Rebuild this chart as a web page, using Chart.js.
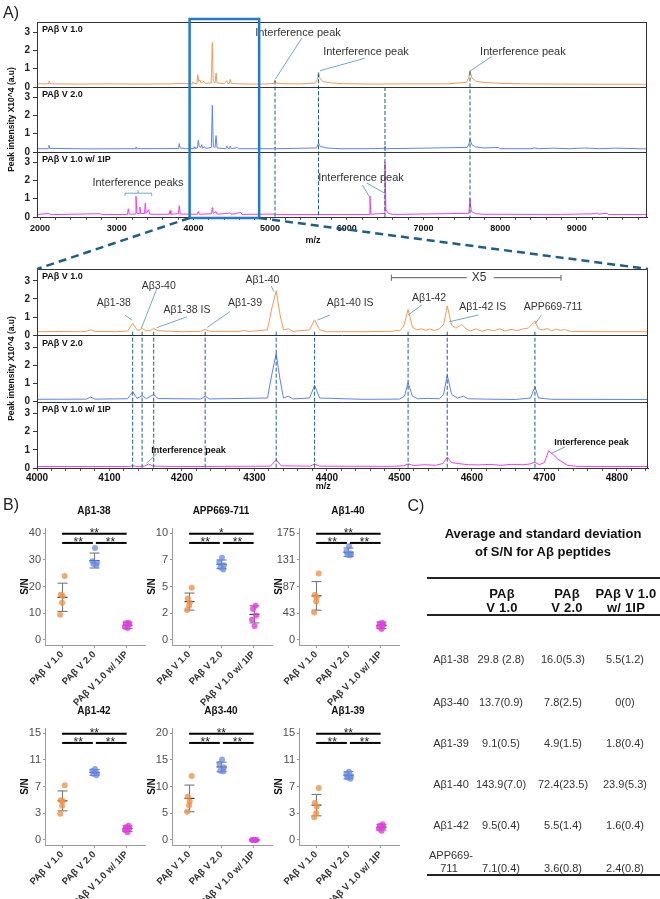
<!DOCTYPE html>
<html>
<head>
<meta charset="utf-8">
<title>PAβ spectra and S/N</title>
<script src="https://cdn.jsdelivr.net/npm/chart.js@4.4.1/dist/chart.umd.min.js"></script>
<style>
  html, body { margin: 0; padding: 0; background: #fff; }
  body { position: relative; width: 660px; height: 899px; overflow: hidden;
         font-family: "Liberation Sans", Arial, sans-serif; color: #222; }
  canvas { position: absolute; }
  .t { position: absolute; white-space: nowrap; transform: translate(-50%, -50%); line-height: 1; }
</style>
</head>
<body>
<script>
const FONT = '"Liberation Sans", Arial, sans-serif';
Chart.defaults.animation = false;
Chart.defaults.font.family = FONT;
Chart.defaults.color = '#222';

// ---------- A) spectra: [m/z, intensity x10^4] ----------
const traceNames = ['PAβ V 1.0', 'PAβ V 2.0', 'PAβ V 1.0 w/ 1IP'];
const traceColors = ['#f39a55', '#5f82ef', '#ee3ff0'];
const specYTicks = [0, 1, 2, 3];

const ovMajor = [2000, 3000, 4000, 5000, 6000, 7000, 8000, 9000];
const ovV1 = [[1960,0.17],[2080,0.17],[2105,0.19],[2116,0.33],[2130,0.2],[2160,0.17],[2500,0.16],[2900,0.17],
  [3300,0.16],[3700,0.17],[3800,0.19],[3950,0.18],[3985,0.17],[3995,0.28],[4008,0.18],[4045,0.2],[4056,0.67],
  [4070,0.3],[4086,0.38],[4100,0.22],[4140,0.3],[4154,0.2],[4232,0.22],[4246,2.43],[4259,0.3],[4282,0.22],
  [4295,0.76],[4308,0.22],[4400,0.18],[4436,0.35],[4449,0.2],[4468,0.18],[4480,0.42],[4492,0.2],[4600,0.17],
  [4800,0.16],[5000,0.17],[5050,0.2],[5064,0.37],[5080,0.22],[5150,0.18],[5400,0.17],[5590,0.22],[5618,0.45],
  [5631,0.8],[5652,0.45],[5690,0.3],[5800,0.22],[5950,0.18],[6300,0.16],[6800,0.17],[7300,0.17],[7560,0.25],
  [7590,0.5],[7607,0.89],[7630,0.5],[7680,0.32],[7780,0.25],[8000,0.2],[8300,0.17],[8800,0.16],[9300,0.15],[9915,0.15]];
const ovV2 = [[1960,0.18],[2100,0.18],[2108,0.2],[2116,0.37],[2126,0.2],[2600,0.17],[3240,0.18],[3251,0.28],
  [3262,0.18],[3800,0.19],[3808,0.25],[3815,0.46],[3826,0.22],[3900,0.18],[4000,0.18],[4010,0.28],[4020,0.2],
  [4052,0.22],[4063,0.64],[4077,0.3],[4097,0.25],[4108,0.4],[4120,0.2],[4145,0.3],[4158,0.2],[4234,0.25],
  [4246,2.55],[4259,0.3],[4282,0.25],[4295,0.9],[4308,0.22],[4424,0.18],[4436,0.32],[4449,0.2],[4470,0.18],
  [4480,0.32],[4492,0.18],[4575,0.24],[4588,0.18],[5050,0.18],[5064,0.24],[5080,0.18],[5605,0.22],[5631,0.5],
  [5655,0.3],[5740,0.22],[5900,0.18],[6290,0.18],[6302,0.22],[6316,0.18],[6486,0.2],[6498,0.32],[6512,0.18],
  [7570,0.25],[7594,0.45],[7607,0.7],[7630,0.4],[7680,0.28],[7780,0.22],[7980,0.25],[7995,0.18],[8400,0.18],
  [8450,0.22],[8500,0.18],[8700,0.21],[8900,0.18],[9100,0.22],[9300,0.18],[9500,0.21],[9915,0.17]];
const ovIP = [[1960,0.13],[2116,0.2],[2140,0.13],[2785,0.18],[2800,0.13],[3140,0.14],[3151,0.45],[3163,0.15],
  [3240,0.16],[3251,1.13],[3264,0.2],[3294,0.18],[3302,0.55],[3312,0.2],[3362,0.18],[3372,0.76],[3384,0.2],
  [3416,0.4],[3430,0.15],[3684,0.15],[3695,0.35],[3706,0.15],[3804,0.18],[3815,0.62],[3828,0.16],[4052,0.15],
  [4063,0.3],[4077,0.15],[4236,0.18],[4246,0.52],[4259,0.2],[4295,0.3],[4308,0.15],[4480,0.22],[4494,0.14],
  [4620,0.25],[4633,0.14],[5064,0.16],[5080,0.13],[6290,0.14],[6302,1.13],[6314,0.15],[6488,0.2],[6498,3.0],
  [6510,0.4],[6540,0.2],[6600,0.14],[7592,0.2],[7607,1.0],[7624,0.3],[7680,0.18],[7760,0.15],[8800,0.14],
  [9250,0.18],[9264,0.22],[9280,0.16],[9395,0.2],[9410,0.14],[9915,0.13]];

const zmMajor = [4000, 4100, 4200, 4300, 4400, 4500, 4600, 4700, 4800];
const zmV1 = [[4000,0.2],[4030,0.21],[4060,0.2],[4068,0.22],[4074,0.3],[4080,0.22],[4110,0.2],[4125,0.24],
  [4132,0.66],[4138,0.3],[4141,0.28],[4145,0.38],[4150,0.25],[4156,0.26],[4161,0.38],[4167,0.25],[4200,0.2],
  [4226,0.22],[4232,0.33],[4238,0.22],[4280,0.22],[4286,0.27],[4292,0.21],[4318,0.3],[4324,1.5],[4330,2.45],
  [4335,1.2],[4340,0.3],[4347,0.36],[4353,0.22],[4376,0.3],[4383,0.85],[4390,0.3],[4400,0.2],[4450,0.2],
  [4490,0.22],[4496,0.28],[4500,0.24],[4506,0.5],[4512,1.43],[4518,0.45],[4524,0.3],[4530,0.36],[4536,0.28],
  [4542,0.34],[4548,0.27],[4555,0.35],[4561,0.6],[4566,1.62],[4572,0.55],[4578,0.4],[4586,0.6],[4592,0.35],
  [4598,0.25],[4606,0.35],[4614,0.22],[4622,0.33],[4630,0.25],[4638,0.36],[4646,0.24],[4654,0.33],[4662,0.26],
  [4670,0.35],[4678,0.4],[4687,0.8],[4692,0.35],[4698,0.3],[4704,0.37],[4710,0.25],[4716,0.34],[4722,0.27],
  [4728,0.32],[4735,0.22],[4780,0.2],[4843,0.2]];
const zmV2 = [[4000,0.13],[4068,0.14],[4074,0.25],[4080,0.14],[4125,0.16],[4132,0.55],[4138,0.18],[4145,0.33],
  [4151,0.17],[4161,0.4],[4167,0.17],[4226,0.15],[4232,0.3],[4238,0.15],[4318,0.2],[4324,1.5],[4330,2.65],
  [4335,1.3],[4340,0.2],[4347,0.3],[4353,0.15],[4376,0.2],[4383,0.9],[4390,0.2],[4450,0.13],[4500,0.14],
  [4507,0.3],[4512,1.04],[4518,0.3],[4525,0.16],[4540,0.18],[4555,0.16],[4561,0.4],[4566,1.46],[4572,0.4],
  [4580,0.2],[4588,0.3],[4595,0.16],[4620,0.14],[4660,0.12],[4681,0.2],[4687,0.82],[4692,0.2],[4700,0.17],
  [4710,0.13],[4843,0.12]];
const zmIP = [[4000,0.08],[4126,0.08],[4132,0.12],[4140,0.08],[4148,0.1],[4154,0.22],[4160,0.1],[4200,0.08],
  [4322,0.1],[4330,0.45],[4337,0.12],[4377,0.1],[4383,0.22],[4390,0.1],[4490,0.09],[4506,0.12],[4512,0.22],
  [4520,0.14],[4535,0.18],[4550,0.15],[4560,0.25],[4566,0.6],[4572,0.3],[4580,0.25],[4595,0.18],[4610,0.17],
  [4625,0.2],[4640,0.15],[4655,0.2],[4670,0.18],[4680,0.22],[4687,0.32],[4693,0.18],[4700,0.3],[4706,0.95],
  [4712,0.75],[4718,0.5],[4724,0.35],[4732,0.15],[4745,0.09],[4843,0.08]];

// dashed peak markers: [m/z, axis where it starts, value where it starts]
const ovMarkers = [[5064,'yA',0.35],[5631,'yA',0.75],[6498,'yB',3.55],[7607,'yA',0.85]];
const zmMarkers = [4132, 4145, 4161, 4232, 4330, 4383, 4512, 4566, 4687].map(m => [m, 'yA', 0.2]);
const boxMz = [3950, 4857];

// annotation texts (placed in data units)
const ovLabels = [
  {t:'Interference peak', x:5363, ax:'yA', y:2.95},
  {t:'Interference peak', x:6250, ax:'yA', y:1.91},
  {t:'Interference peak', x:8297, ax:'yA', y:1.91},
  {t:'Interference peaks', x:3277, ax:'yC', y:1.86},
  {t:'Interference peak', x:6185, ax:'yC', y:2.13}];
const ovLines = [
  {ax:'yA', p:[[5412,2.66],[5067,0.42]]}, {ax:'yA', p:[[6237,1.57],[5650,0.89]]},
  {ax:'yA', p:[[7889,1.66],[7606,0.87]]}, {ax:'yC', p:[[6202,1.75],[6302,1.07]]},
  {ax:'yC', p:[[6259,1.86],[6489,1.31]]},
  {ax:'yC', p:[[3108,1.15],[3108,1.30],[3456,1.30],[3456,1.15]]}, {ax:'yC', p:[[3277,1.30],[3277,1.48]]}];
const zmLabels = [
  {t:'Aβ1-38', x:4106, ax:'yA', y:1.80}, {t:'Aβ3-40', x:4168, ax:'yA', y:2.71},
  {t:'Aβ1-38 IS', x:4207, ax:'yA', y:1.39}, {t:'Aβ1-39', x:4287, ax:'yA', y:1.80},
  {t:'Aβ1-40', x:4311, ax:'yA', y:3.05}, {t:'Aβ1-40 IS', x:4432, ax:'yA', y:1.80},
  {t:'Aβ1-42', x:4541, ax:'yA', y:2.07}, {t:'Aβ1-42 IS', x:4615, ax:'yA', y:1.57},
  {t:'APP669-711', x:4712, ax:'yA', y:1.57}, {t:'X5', x:4610, ax:'yA', y:3.17, size:12},
  {t:'Interference peak', x:4209, ax:'yC', y:0.94, size:9, bold:true},
  {t:'Interference peak', x:4765, ax:'yC', y:1.38, size:9, bold:true}];
const zmLines = [
  {ax:'yA', p:[[4121,1.12],[4131,0.84]]}, {ax:'yA', p:[[4165,2.53],[4144,0.39]]},
  {ax:'yA', p:[[4207,1.02],[4165,0.42]]}, {ax:'yA', p:[[4266,1.30],[4235,0.44]]},
  {ax:'yA', p:[[4323,2.71],[4327,2.40]]}, {ax:'yA', p:[[4404,1.12],[4387,0.84]]},
  {ax:'yA', p:[[4531,1.67],[4512,1.12]]}, {ax:'yA', p:[[4609,1.12],[4569,0.75]]},
  {ax:'yA', p:[[4696,1.12],[4687,0.62]]},
  {ax:'yC', p:[[4165,0.77],[4151,0.26]]}, {ax:'yC', p:[[4729,1.17],[4710,0.81]]},
  {ax:'yA', p:[[4489,3.17],[4593,3.17]], c:'#7a7a7a'}, {ax:'yA', p:[[4630,3.17],[4723,3.17]], c:'#7a7a7a'},
  {ax:'yA', p:[[4489,3.0],[4489,3.34]], c:'#7a7a7a'}, {ax:'yA', p:[[4723,3.0],[4723,3.34]], c:'#7a7a7a'}];

// ---------- B) S/N per peptide ----------
const groups = ['PAβ V 1.0', 'PAβ V 2.0', 'PAβ V 1.0 w/ 1IP'];
const peptides = ['Aβ1-38', 'APP669-711', 'Aβ1-40', 'Aβ1-42', 'Aβ3-40', 'Aβ1-39'];
const yMax = [40, 10, 175, 15, 20, 15];
const yTickLabels = [['0','10','20','30','40'], ['0','2','5','7','10'], ['0','43','87','131','175'],
                     ['0','3','7','11','15'], ['0','5','10','15','20'], ['0','3','7','11','15']];
const snMeans = [[16.0,29.8,5.5],[3.6,7.1,2.4],[72.4,143.9,23.9],[5.5,9.5,1.6],[7.8,13.7,0],[4.9,9.1,1.8]];
const snSds = [[5.3,2.8,1.2],[0.8,0.4,0.8],[23.5,7.0,5.3],[1.4,0.4,0.4],[2.5,0.9,0],[1.5,0.5,0.4]];
const snPoints = [
  [[24.0,17.0,16.5,14.0,9.5],[34.5,29.5,29.0,28.5,28.0],[6.5,6.3,5.8,5.0,4.5]],
  [[4.9,3.9,3.5,3.2,2.8],[7.7,7.3,7.0,6.8,6.6],[3.2,2.9,2.3,1.9,1.3]],
  [[109,74,70,63,45],[154,145,142,140,139],[28,27,24,22,18]],
  [[7.7,5.6,5.5,4.8,3.7],[10.0,9.7,9.4,9.3,9.1],[2.0,1.8,1.6,1.4,1.1]],
  [[12.0,8.1,7.2,6.5,5.3],[15.1,14.3,13.6,13.0,12.9],[0,0,0,0,0]],
  [[7.3,5.2,4.7,3.8,3.2],[9.6,9.2,9.0,8.8,8.6],[2.2,2.0,1.8,1.6,1.3]]];
const jitter = [[0.08,-0.04,0.02,0.0,-0.06],[0.02,-0.06,0.08,-0.03,0.06],[0.06,-0.02,0.08,-0.05,0.03]];
// stars: [V1.0 vs IP (top), V1.0 vs V2.0, V2.0 vs IP]
const sigStars = [['**','**','**'],['*','**','**'],['**','**','**'],['**','**','**'],['**','**','**'],['**','**','**']];
const dotColors = ['rgba(243,146,70,0.8)', 'rgba(100,138,232,0.75)', 'rgba(222,62,222,0.8)'];

// ---------- C) table ----------
const tableTitle = ['Average and standard deviation', 'of S/N for Aβ peptides'];
const tableHead = [['PAβ', 'V 1.0'], ['PAβ', 'V 2.0'], ['PAβ V 1.0', 'w/ 1IP']];
const tableRows = ['Aβ1-38', 'Aβ3-40', 'Aβ1-39', 'Aβ1-40', 'Aβ1-42', 'APP669-711'];
const tableV1 = ['29.8 (2.8)', '13.7(0.9)', '9.1(0.5)', '143.9(7.0)', '9.5(0.4)', '7.1(0.4)'];
const tableV2 = ['16.0(5.3)', '7.8(2.5)', '4.9(1.5)', '72.4(23.5)', '5.5(1.4)', '3.6(0.8)'];
const tableIP = ['5.5(1.2)', '0(0)', '1.8(0.4)', '23.9(5.3)', '1.6(0.4)', '2.4(0.8)'];

// ---------- helpers ----------
function addCanvas(left, top, w, h) {
  const c = document.createElement('canvas');
  c.width = w; c.height = h;
  c.style.left = left + 'px'; c.style.top = top + 'px';
  c.style.width = w + 'px'; c.style.height = h + 'px';
  document.body.appendChild(c);
  return c;
}
function addText(x, y, str, css) {
  const d = document.createElement('div');
  d.className = 't';
  d.textContent = str;
  d.style.left = x + 'px'; d.style.top = y + 'px';
  Object.assign(d.style, css || {});
  document.body.appendChild(d);
  return d;
}
function seg(ctx, pts) {
  ctx.beginPath();
  pts.forEach((p, k) => k ? ctx.lineTo(p[0], p[1]) : ctx.moveTo(p[0], p[1]));
  ctx.stroke();
}

// ---------- spectrum chart (three stacked y axes) ----------
function spectrum(canvas, traces, cfg) {
  const axes = ['yA', 'yB', 'yC'];
  const tickVals = [];
  for (let v = Math.ceil(cfg.min / cfg.step) * cfg.step; v <= cfg.max; v += cfg.step) tickVals.push(v);

  const yAxis = () => ({
    type: 'linear', position: 'left', stack: 'spec', stackWeight: 1,
    min: 0, max: cfg.yMax,
    afterBuildTicks: s => { s.ticks = specYTicks.map(v => ({ value: v })); },
    ticks: { autoSkip: false, font: { size: 10, weight: 'bold' }, color: '#222', padding: 3 },
    grid: { drawOnChartArea: false, tickLength: 4, color: '#333' },
    border: { color: '#333' },
    afterFit: s => { s.width = 37; }
  });

  const decor = {
    id: 'decor',
    afterDatasetsDraw(chart) {
      const ctx = chart.ctx, x = chart.scales.x, a = chart.chartArea;
      ctx.save();
      ctx.strokeStyle = '#1d5f80'; ctx.lineWidth = 1; ctx.setLineDash([4, 2]);
      cfg.markers.forEach(m => {
        const px = x.getPixelForValue(m[0]);
        seg(ctx, [[px, chart.scales[m[1]].getPixelForValue(m[2])], [px, a.bottom]]);
      });
      ctx.restore();
    },
    afterDraw(chart) {
      const ctx = chart.ctx, x = chart.scales.x, a = chart.chartArea;
      ctx.save();
      ctx.strokeStyle = '#333'; ctx.lineWidth = 1;
      ctx.strokeRect(a.left + 0.5, a.top + 0.5, a.right - a.left - 1, a.bottom - a.top);
      ['yA', 'yB'].forEach(id => {
        const b = Math.round(chart.scales[id].bottom) + 0.5;
        seg(ctx, [[a.left, b], [a.right, b]]);
      });
      // trace names
      ctx.fillStyle = '#111'; ctx.textBaseline = 'middle'; ctx.textAlign = 'left';
      ctx.font = 'bold 9px ' + FONT;
      axes.forEach((id, i) => ctx.fillText(traceNames[i], a.left + 5, chart.scales[id].top + 8));
      // leaders / brackets
      cfg.lines.forEach(l => {
        ctx.strokeStyle = l.c || '#4a92bd'; ctx.lineWidth = l.c ? 1.2 : 0.8;
        seg(ctx, l.p.map(p => [x.getPixelForValue(p[0]), chart.scales[l.ax].getPixelForValue(p[1])]));
      });
      // labels
      ctx.textAlign = 'center';
      cfg.labels.forEach(l => {
        ctx.font = (l.bold ? 'bold ' : '') + (l.size || cfg.labelSize) + 'px ' + FONT;
        ctx.fillStyle = l.bold ? '#111' : '#333';
        ctx.fillText(l.t, x.getPixelForValue(l.x), chart.scales[l.ax].getPixelForValue(l.y));
      });
      // axis titles
      ctx.fillStyle = '#111';
      ctx.font = 'bold 9px ' + FONT;
      ctx.fillText('m/z', x.getPixelForValue(cfg.mzTitleAt), a.bottom + cfg.mzTitleDy);
      ctx.translate(12, (a.top + a.bottom) / 2);
      ctx.rotate(-Math.PI / 2);
      ctx.font = 'bold 8.5px ' + FONT;
      ctx.fillText('Peak intensity X10^4 (a.u)', 0, 0);
      ctx.restore();
    }
  };

  return new Chart(canvas, {
    type: 'line',
    data: {
      datasets: traces.map((t, i) => ({
        data: t.map(p => ({ x: p[0], y: p[1] })),
        yAxisID: axes[i], borderColor: traceColors[i], borderWidth: 1,
        pointRadius: 0, tension: 0, fill: false
      }))
    },
    options: {
      responsive: false,
      layout: { padding: { top: cfg.top, right: cfg.right, left: 0, bottom: 0 } },
      plugins: { legend: { display: false }, tooltip: { enabled: false } },
      scales: {
        x: {
          type: 'linear', min: cfg.min, max: cfg.max,
          afterBuildTicks: s => { s.ticks = tickVals.map(v => ({ value: v })); },
          ticks: {
            autoSkip: false, maxRotation: 0, padding: cfg.tickPad, color: '#111',
            font: { size: cfg.tickSize, weight: 'bold' },
            callback: v => cfg.major.includes(v) ? String(v) : ''
          },
          grid: { drawOnChartArea: false, tickLength: 3, color: '#555' },
          border: { color: '#333' },
          afterFit: s => { s.height = cfg.xh; }
        },
        yC: yAxis(), yB: yAxis(), yA: yAxis()
      }
    },
    plugins: [decor]
  });
}

const ovChart = spectrum(addCanvas(0, 0, 660, 250), [ovV1, ovV2, ovIP], {
  min: 1960, max: 9915, step: 200, major: ovMajor, yMax: 3.55, top: 22, right: 13, xh: 33,
  tickSize: 9, tickPad: 3, markers: ovMarkers, labels: ovLabels, lines: ovLines, labelSize: 11,
  mzTitleAt: 5559, mzTitleDy: 24
});
const zmTop = 250;
const zmChart = spectrum(addCanvas(0, zmTop, 660, 250), [zmV1, zmV2, zmIP], {
  min: 4000, max: 4843, step: 20, major: zmMajor, yMax: 3.65, top: 19, right: 12, xh: 32,
  tickSize: 10, tickPad: 1, markers: zmMarkers, labels: zmLabels, lines: zmLines, labelSize: 10.5,
  mzTitleAt: 4395, mzTitleDy: 19
});

// ---------- B) small S/N charts ----------
const smallPos = [[45, 528], [172, 528], [299, 528], [45, 728], [172, 728], [299, 728]];

function snChart(i) {
  const [axX, top] = smallPos[i];
  const h = top < 600 ? 215 : 204;
  const max = yMax[i];
  const decor = {
    id: 'sn',
    beforeDatasetsDraw(chart) {
      const ctx = chart.ctx, xs = chart.scales.x, ys = chart.scales.y;
      ctx.save();
      ctx.lineWidth = 1.1;
      snMeans[i].forEach((m, g) => {
        const px = Math.round(xs.getPixelForValue(g + 1)) + 0.5;
        const lo = ys.getPixelForValue(m - snSds[i][g]), hi = ys.getPixelForValue(m + snSds[i][g]);
        const md = ys.getPixelForValue(m);
        ctx.strokeStyle = '#777';
        seg(ctx, [[px, lo], [px, hi]]);
        seg(ctx, [[px - 5, lo], [px + 5, lo]]);
        seg(ctx, [[px - 5, hi], [px + 5, hi]]);
        ctx.strokeStyle = '#2a2a2a';
        seg(ctx, [[px - 5, md], [px + 5, md]]);
      });
      ctx.restore();
    },
    afterDraw(chart) {
      const ctx = chart.ctx, xs = chart.scales.x, ys = chart.scales.y, a = chart.chartArea;
      const c = [1, 2, 3].map(v => xs.getPixelForValue(v));
      const yTop = ys.getPixelForValue(0.995 * max), yLow = ys.getPixelForValue(0.91 * max);
      ctx.save();
      ctx.strokeStyle = '#000'; ctx.lineWidth = 2;
      seg(ctx, [[c[0], yTop], [c[2], yTop]]);
      seg(ctx, [[c[0], yLow], [c[1] - 1.5, yLow]]);
      seg(ctx, [[c[1] + 1.5, yLow], [c[2], yLow]]);
      ctx.fillStyle = '#222'; ctx.textAlign = 'center'; ctx.textBaseline = 'alphabetic';
      ctx.font = '12px ' + FONT;
      ctx.fillText(sigStars[i][0], (c[0] + c[2]) / 2, yTop + 3);
      ctx.fillText(sigStars[i][1], (c[0] + c[1]) / 2, yLow + 3);
      ctx.fillText(sigStars[i][2], (c[1] + c[2]) / 2, yLow + 3);
      // title and y title
      ctx.fillStyle = '#111'; ctx.textBaseline = 'middle';
      ctx.font = 'bold 10px ' + FONT;
      ctx.fillText(peptides[i], (a.left + a.right) / 2 - 1, a.top - 17);
      ctx.translate(a.left - 20, (a.top + a.bottom) / 2);
      ctx.rotate(-Math.PI / 2);
      ctx.fillText('S/N', 0, 0);
      ctx.restore();
    }
  };
  return new Chart(addCanvas(axX - 45, top - 33, 150, h), {
    type: 'scatter',
    data: {
      datasets: snPoints[i].map((vals, g) => ({
        data: vals.map((v, k) => ({ x: g + 1 + jitter[g][k], y: v })),
        backgroundColor: dotColors[g], borderWidth: 0, pointRadius: 3
      }))
    },
    options: {
      responsive: false,
      layout: { padding: { top: 33, right: 5, left: 0, bottom: 0 } },
      plugins: { legend: { display: false }, tooltip: { enabled: false } },
      scales: {
        x: {
          type: 'linear', min: 0.47, max: 3.57,
          afterBuildTicks: s => { s.ticks = groups.map((_, g) => ({ value: g + 1 })); },
          ticks: {
            autoSkip: false, minRotation: 45, maxRotation: 45, padding: 1, color: '#333',
            font: { size: 9.5, weight: 'bold' }, callback: v => groups[Math.round(v) - 1]
          },
          grid: { drawOnChartArea: false, tickLength: 3, color: '#9a9a9a' },
          border: { color: '#9a9a9a' },
          afterFit: s => { s.height = h - 150; }
        },
        y: {
          type: 'linear', min: -0.047 * max, max: 1.05 * max,
          afterBuildTicks: s => { s.ticks = yTickLabels[i].map((_, k) => ({ value: max * k / 4 })); },
          ticks: { autoSkip: false, padding: 2, color: '#4d4d4d', font: { size: 11 }, callback: (v, k) => yTickLabels[i][k] },
          grid: { drawOnChartArea: false, tickLength: 2, color: '#9a9a9a' },
          border: { color: '#9a9a9a' },
          afterFit: s => { s.width = 45; }
        }
      }
    },
    plugins: [decor]
  });
}
peptides.forEach((_, i) => snChart(i));

// ---------- zoom box and connectors (overlay) ----------
const overlay = addCanvas(0, 0, 660, 899);
overlay.style.pointerEvents = 'none';
(function drawOverlay() {
  const ctx = overlay.getContext('2d');
  const oa = ovChart.chartArea, za = zmChart.chartArea;
  const bl = ovChart.scales.x.getPixelForValue(boxMz[0]);
  const br = ovChart.scales.x.getPixelForValue(boxMz[1]);
  const bt = oa.top - 3, bb = oa.bottom + 1;
  ctx.strokeStyle = '#1f7ad0'; ctx.lineWidth = 2.5;
  ctx.strokeRect(bl, bt, br - bl, bb - bt);
  ctx.strokeStyle = '#1d5f86'; ctx.lineWidth = 2.5; ctx.setLineDash([8, 5]);
  seg(ctx, [[bl, bb], [za.left, zmTop + za.top]]);
  seg(ctx, [[br, bb], [za.right, zmTop + za.top]]);
})();

// ---------- panel letters and table ----------
addText(11, 13, 'A)', { fontSize: '16px' });
addText(11, 505, 'B)', { fontSize: '16px' });
addText(416, 506, 'C)', { fontSize: '16px' });

const titleCss = { fontSize: '13px', fontWeight: 'bold', color: '#111' };
addText(543, 533, tableTitle[0], titleCss);
addText(543, 551, tableTitle[1], titleCss);

function rule(y, h) {
  const d = document.createElement('div');
  Object.assign(d.style, { position: 'absolute', left: '427px', width: '233px', top: y + 'px',
                           height: h + 'px', background: '#222' });
  document.body.appendChild(d);
}
rule(577, 2); rule(614, 2); rule(874, 2);

const colX = [501, 563, 625];
const headX = [502, 567, 626];
const headCss = { fontSize: '13px', fontWeight: 'bold', color: '#111', letterSpacing: '0.2px' };
tableHead.forEach((hd, k) => {
  addText(headX[k], 593, hd[0], headCss);
  addText(headX[k], 607, hd[1], headCss);
});
const rowY = [659, 702, 743, 784, 825, 868];
const cellCss = { fontSize: '11px', color: '#333' };
tableRows.forEach((r, k) => {
  if (r === 'APP669-711') {
    addText(451, rowY[k] - 13, 'APP669-', cellCss);
    addText(449, rowY[k], '711', cellCss);
  } else {
    addText(451, rowY[k], r, cellCss);
  }
  addText(colX[0], rowY[k], tableV1[k], cellCss);
  addText(colX[1], rowY[k], tableV2[k], cellCss);
  addText(colX[2], rowY[k], tableIP[k], cellCss);
});
</script>
</body>
</html>
